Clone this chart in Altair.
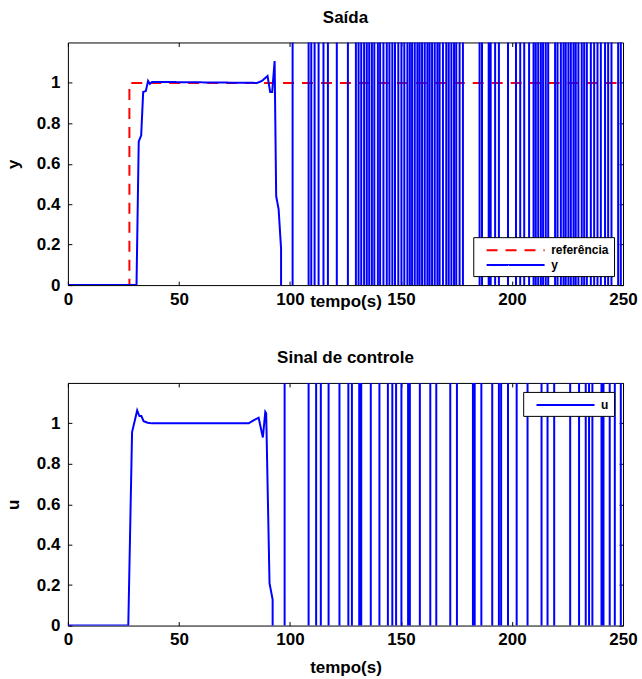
import altair as alt
import pandas as pd

# ---------------- data ----------------
# reference signal (step)
ref_t = [0, 27.7, 27.7, 250]
ref_v = [0, 0, 1, 1]

# output y, on-scale part
y_t = [0, 30.9, 31.9, 33.0, 33.9, 35.1, 36.1, 36.9, 37.9, 85.2, 87.4, 89.9,
       91.1, 92.0, 93.1, 93.8, 94.9, 96.0, 96.6]
y_v = [0, 0, 0.71, 0.74, 0.955, 0.96, 1.01, 0.995, 1.005, 1.0, 1.01, 1.034,
       0.955, 0.955, 1.108, 0.44, 0.375, 0.18, -1000]
# instants where y jumps across the whole (off-scale) range
y_jumps = [101.2, 108.4, 109.6, 111.1, 112.9, 115.1, 117.1, 121.1, 126.1,
           129.7, 130.9, 132.1, 133.4, 134.6, 135.7, 136.9, 138.0, 139.6,
           140.6, 142.1, 143.6, 144.8, 146.1, 147.3, 148.8, 150.2, 151.5,
           152.9, 154.0, 155.0, 156.2, 157.4, 158.4, 159.5, 160.7, 161.9,
           162.9, 164.0, 165.2, 166.4, 167.4, 168.9, 170.4, 171.5, 172.7,
           173.9, 174.9, 176.4, 177.9, 185.4, 186.5, 189.5, 190.4, 192.4,
           194.1, 198.2, 201.8, 203.7, 205.5, 207.7, 209.7, 210.7, 211.8,
           213.0, 214.0, 215.2, 216.3, 219.4, 220.5, 222.0, 223.2, 224.2,
           225.4, 226.5, 227.7, 228.7, 229.9, 231.4, 232.5, 233.7, 235.5,
           237.0, 238.5, 240.0, 241.9, 243.3, 244.8, 247.8, 249.0]

# control signal u, on-scale part
u_t = [0, 27.2, 28.9, 31.2, 32.2, 33.1, 34.1, 35.9, 37.9, 81.4, 83.6, 85.9,
       87.8, 88.9, 89.3, 90.8, 92.2, 92.4]
u_v = [0, 0, 0.957, 1.064, 1.036, 1.036, 1.011, 1.003, 1.0, 1.0, 1.015,
       1.028, 0.93, 1.057, 1.05, 0.21, 0.128, -1000]
u_jumps = [97.6, 108.4, 111.8, 113.9, 117.4, 122.3, 126.3, 127.9, 131.2,
           132.1, 136.4, 140.3, 144.1, 146.1, 147.8, 150.2, 153.2, 154.0,
           158.5, 163.2, 165.9, 172.2, 175.2, 182.4, 183.2, 186.2, 191.1,
           194.1, 195.1, 198.2, 202.1, 207.0, 213.3, 216.0, 219.0, 226.2,
           230.2, 233.2, 234.7, 236.2, 240.3, 241.2, 244.0, 246.3, 249.0]

OFF = 1000.0          # off-scale magnitude of the unstable signal
X_TICKS = [0, 50, 100, 150, 200, 250]
Y_TICKS = [0, 0.2, 0.4, 0.6, 0.8, 1.0]

# ---------------- styling ----------------
W, H = 556, 243
FONT = "Liberation Sans"
FS = 17
BLUE, RED = "#0000ff", "#ff0000"


def smooth_df(ts, vs, name):
    return pd.DataFrame({"t": ts, "v": vs, "serie": name, "i": range(len(ts))})


def jump_dfs(jumps, name, split):
    pts = []
    level = -OFF
    for tj in jumps:
        pts.append((tj, level))
        level = -level
        pts.append((tj, level))
    a = pts[: 2 * split]
    b = pts[2 * split - 1:]
    mk = lambda p: pd.DataFrame({"t": [q[0] for q in p], "v": [q[1] for q in p],
                                 "serie": name, "i": range(len(p))})
    return mk(a), mk(b)


xs = alt.Scale(domain=[0, 250], nice=False, zero=False)
ys = alt.Scale(domain=[0, 1.2], nice=False, zero=False)


def main_axes(ytitle, xtitle_y):
    ax = alt.Axis(values=X_TICKS, format="d", ticks=False, domain=False, grid=False,
                  title="tempo(s)", labelFlush=False, labelPadding=6,
                  titleY=xtitle_y, titleBaseline="middle")
    ay = alt.Axis(values=Y_TICKS, format=".1~f", ticks=False, domain=False, grid=False,
                  title=ytitle, labelFlush=False, labelPadding=8, titlePadding=14)
    return ax, ay


def tick_axes(xo, yo):
    ax = alt.Axis(orient=xo, offset=-H, values=X_TICKS, labels=False, ticks=True,
                  tickSize=4, domain=False, grid=False, title=None)
    ay = alt.Axis(orient=yo, offset=-W, values=Y_TICKS, labels=False, ticks=True,
                  tickSize=4, domain=False, grid=False, title=None)
    return ax, ay


def layer(df, axes, cs, ds, leg, sw=2):
    ax, ay = axes
    enc = dict(
        x=alt.X("t:Q", scale=xs, axis=ax),
        y=alt.Y("v:Q", scale=ys, axis=ay),
        color=alt.Color("serie:N", scale=cs, legend=leg),
        order=alt.Order("i:Q"),
    )
    if ds is not None:
        enc["strokeDash"] = alt.StrokeDash("serie:N", scale=ds, legend=leg)
    return alt.Chart(df).mark_line(clip=True, strokeWidth=sw, strokeCap="butt").encode(**enc)


def make_legend(orient, offset):
    # wide line symbol drawn by a custom path (unit = 7 px)
    return alt.Legend(title=None, orient=orient, offset=offset, fillColor="white",
                      strokeColor="black", padding=5, symbolType="M0.05,0H8.35",
                      symbolSize=196, symbolStrokeWidth=2, labelFont=FONT,
                      labelFontWeight="bold", labelFontSize=12, labelColor="black",
                      rowPadding=1, labelOffset=57, cornerRadius=0)


# ---- top panel ----
leg_top = make_legend("bottom-right", 9)
cs_top = alt.Scale(domain=["referência", "y"], range=[RED, BLUE])
ds_top = alt.Scale(domain=["referência", "y"], range=[[11, 8], [1, 0]])
yA, yB = jump_dfs(y_jumps, "y", 40)
top = alt.layer(
    layer(smooth_df(ref_t, ref_v, "referência"), main_axes("y", 16), cs_top, ds_top, leg_top),
    layer(smooth_df(y_t, y_v, "y"), tick_axes("top", "right"), cs_top, ds_top, leg_top),
    layer(pd.concat([yA, yB.iloc[1:]]).assign(i=lambda d: range(len(d))),
          tick_axes("bottom", "left"), cs_top, ds_top, leg_top),
).resolve_axis(x="independent", y="independent").properties(
    width=W, height=H,
    title=alt.TitleParams("Saída", font=FONT, fontSize=FS, fontWeight="bold",
                          color="black", anchor="middle", offset=15),
)

# ---- bottom panel ----
leg_bot = make_legend("top-right", 9)
cs_bot = alt.Scale(domain=["u"], range=[BLUE])
uA, uB = jump_dfs(u_jumps, "u", 15)
bottom = alt.layer(
    layer(smooth_df(u_t, u_v, "u"), main_axes("u", 42), cs_bot, None, leg_bot),
    layer(uA, tick_axes("top", "right"), cs_bot, None, leg_bot),
    layer(uB, tick_axes("bottom", "left"), cs_bot, None, leg_bot),
).resolve_axis(x="independent", y="independent").properties(
    width=W, height=H,
    title=alt.TitleParams("Sinal de controle", font=FONT, fontSize=FS, fontWeight="bold",
                          color="black", anchor="middle", offset=15),
)

chart = alt.vconcat(top, bottom, spacing=39).resolve_scale(
    color="independent", strokeDash="independent"
).resolve_legend(
    color="independent", strokeDash="independent"
).properties(
    padding={"left": 3, "top": 8, "right": 4, "bottom": 2},
    background="white",
).configure_view(stroke="black", strokeWidth=1).configure_axis(
    labelFont=FONT, labelFontSize=FS, labelFontWeight="bold", labelColor="black",
    titleFont=FONT, titleFontSize=FS, titleFontWeight="bold", titleColor="black",
    tickColor="black", tickWidth=1,
)

chart.save("out.html", embed_options={"renderer": "svg", "actions": False})
